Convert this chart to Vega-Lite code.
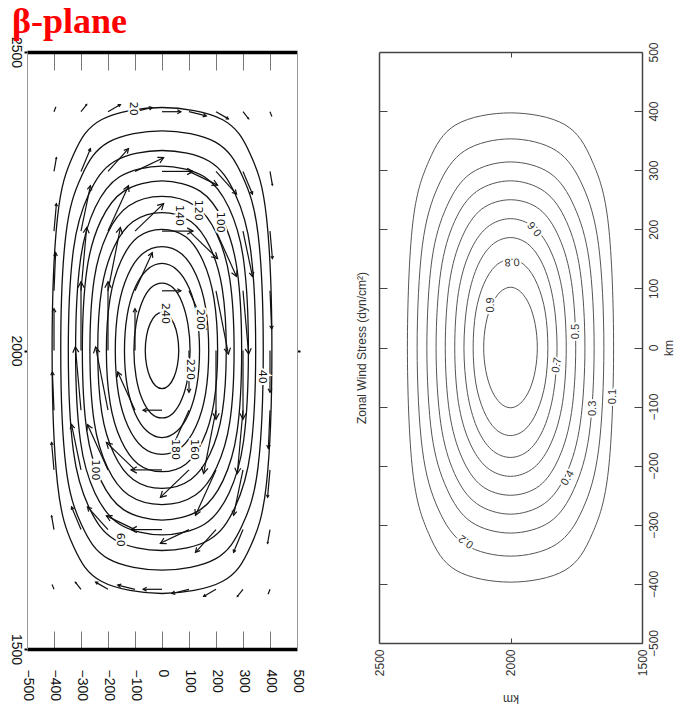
{
"$schema": "https://vega.github.io/schema/vega-lite/v6.json",
"background": "white",
"padding": {"left": 8, "top": 4, "right": 0, "bottom": 0},
"bounds": "flush",
"spacing": 82,
"config": {"view": {"stroke": null}, "font": "Liberation Sans", "axis": {"labelFont": "Liberation Sans", "titleFont": "Liberation Sans", "grid": false}},
"datasets": {
"lc": [
{"l":20,"x":407,"y":2000},{"l":20,"x":387,"y":2223},{"l":20,"x":328,"y":2328},{"l":20,"x":223,"y":2387},{"l":20,"x":0,"y":2407},{"l":20,"x":-223,"y":2387},{"l":20,"x":-328,"y":2328},{"l":20,"x":-387,"y":2223},{"l":20,"x":-407,"y":2000},{"l":20,"x":-387,"y":1777},{"l":20,"x":-328,"y":1672},{"l":20,"x":-223,"y":1613},{"l":20,"x":0,"y":1593},{"l":20,"x":223,"y":1613},{"l":20,"x":328,"y":1672},{"l":20,"x":387,"y":1777},
{"l":40,"x":375,"y":2000},{"l":40,"x":356,"y":2194},{"l":40,"x":298,"y":2292},{"l":40,"x":198,"y":2349},{"l":40,"x":0,"y":2368},{"l":40,"x":-198,"y":2349},{"l":40,"x":-298,"y":2292},{"l":40,"x":-356,"y":2194},{"l":40,"x":-375,"y":2000},{"l":40,"x":-356,"y":1806},{"l":40,"x":-298,"y":1708},{"l":40,"x":-198,"y":1651},{"l":40,"x":0,"y":1632},{"l":40,"x":198,"y":1651},{"l":40,"x":298,"y":1708},{"l":40,"x":356,"y":1806},
{"l":60,"x":347,"y":2000},{"l":60,"x":328,"y":2169},{"l":60,"x":271,"y":2262},{"l":60,"x":175,"y":2317},{"l":60,"x":0,"y":2335},{"l":60,"x":-175,"y":2317},{"l":60,"x":-271,"y":2262},{"l":60,"x":-328,"y":2169},{"l":60,"x":-347,"y":2000},{"l":60,"x":-328,"y":1831},{"l":60,"x":-271,"y":1738},{"l":60,"x":-175,"y":1683},{"l":60,"x":0,"y":1665},{"l":60,"x":175,"y":1683},{"l":60,"x":271,"y":1738},{"l":60,"x":328,"y":1831},
{"l":80,"x":320,"y":2000},{"l":80,"x":302,"y":2152},{"l":80,"x":248,"y":2239},{"l":80,"x":157,"y":2291},{"l":80,"x":0,"y":2309},{"l":80,"x":-157,"y":2291},{"l":80,"x":-248,"y":2239},{"l":80,"x":-302,"y":2152},{"l":80,"x":-320,"y":2000},{"l":80,"x":-302,"y":1848},{"l":80,"x":-248,"y":1761},{"l":80,"x":-157,"y":1709},{"l":80,"x":0,"y":1691},{"l":80,"x":157,"y":1709},{"l":80,"x":248,"y":1761},{"l":80,"x":302,"y":1848},
{"l":100,"x":295,"y":2000},{"l":100,"x":278,"y":2136},{"l":100,"x":226,"y":2218},{"l":100,"x":141,"y":2267},{"l":100,"x":0,"y":2284},{"l":100,"x":-141,"y":2267},{"l":100,"x":-226,"y":2218},{"l":100,"x":-278,"y":2136},{"l":100,"x":-295,"y":2000},{"l":100,"x":-278,"y":1864},{"l":100,"x":-226,"y":1782},{"l":100,"x":-141,"y":1733},{"l":100,"x":0,"y":1716},{"l":100,"x":141,"y":1733},{"l":100,"x":226,"y":1782},{"l":100,"x":278,"y":1864},
{"l":120,"x":267,"y":2000},{"l":120,"x":251,"y":2120},{"l":120,"x":202,"y":2196},{"l":120,"x":124,"y":2242},{"l":120,"x":0,"y":2258},{"l":120,"x":-124,"y":2242},{"l":120,"x":-202,"y":2196},{"l":120,"x":-251,"y":2120},{"l":120,"x":-267,"y":2000},{"l":120,"x":-251,"y":1880},{"l":120,"x":-202,"y":1804},{"l":120,"x":-124,"y":1758},{"l":120,"x":0,"y":1742},{"l":120,"x":124,"y":1758},{"l":120,"x":202,"y":1804},{"l":120,"x":251,"y":1880},
{"l":140,"x":238,"y":2000},{"l":140,"x":223,"y":2104},{"l":140,"x":178,"y":2173},{"l":140,"x":107,"y":2216},{"l":140,"x":0,"y":2231},{"l":140,"x":-107,"y":2216},{"l":140,"x":-178,"y":2173},{"l":140,"x":-223,"y":2104},{"l":140,"x":-238,"y":2000},{"l":140,"x":-223,"y":1896},{"l":140,"x":-178,"y":1827},{"l":140,"x":-107,"y":1784},{"l":140,"x":0,"y":1769},{"l":140,"x":107,"y":1784},{"l":140,"x":178,"y":1827},{"l":140,"x":223,"y":1896},
{"l":160,"x":206,"y":2000},{"l":160,"x":192,"y":2088},{"l":160,"x":152,"y":2150},{"l":160,"x":89,"y":2190},{"l":160,"x":0,"y":2203},{"l":160,"x":-89,"y":2190},{"l":160,"x":-152,"y":2150},{"l":160,"x":-192,"y":2088},{"l":160,"x":-206,"y":2000},{"l":160,"x":-192,"y":1912},{"l":160,"x":-152,"y":1850},{"l":160,"x":-89,"y":1810},{"l":160,"x":0,"y":1797},{"l":160,"x":89,"y":1810},{"l":160,"x":152,"y":1850},{"l":160,"x":192,"y":1912},
{"l":180,"x":173,"y":2000},{"l":180,"x":161,"y":2073},{"l":180,"x":126,"y":2127},{"l":180,"x":72,"y":2162},{"l":180,"x":0,"y":2174},{"l":180,"x":-72,"y":2162},{"l":180,"x":-126,"y":2127},{"l":180,"x":-161,"y":2073},{"l":180,"x":-173,"y":2000},{"l":180,"x":-161,"y":1927},{"l":180,"x":-126,"y":1873},{"l":180,"x":-72,"y":1838},{"l":180,"x":0,"y":1826},{"l":180,"x":72,"y":1838},{"l":180,"x":126,"y":1873},{"l":180,"x":161,"y":1927},
{"l":200,"x":139,"y":2000},{"l":200,"x":129,"y":2059},{"l":200,"x":100,"y":2105},{"l":200,"x":56,"y":2135},{"l":200,"x":0,"y":2146},{"l":200,"x":-56,"y":2135},{"l":200,"x":-100,"y":2105},{"l":200,"x":-129,"y":2059},{"l":200,"x":-139,"y":2000},{"l":200,"x":-129,"y":1941},{"l":200,"x":-100,"y":1895},{"l":200,"x":-56,"y":1865},{"l":200,"x":0,"y":1854},{"l":200,"x":56,"y":1865},{"l":200,"x":100,"y":1895},{"l":200,"x":129,"y":1941},
{"l":220,"x":104,"y":2000},{"l":220,"x":96,"y":2044},{"l":220,"x":74,"y":2081},{"l":220,"x":41,"y":2105},{"l":220,"x":0,"y":2113},{"l":220,"x":-41,"y":2105},{"l":220,"x":-74,"y":2081},{"l":220,"x":-96,"y":2044},{"l":220,"x":-104,"y":2000},{"l":220,"x":-96,"y":1956},{"l":220,"x":-74,"y":1919},{"l":220,"x":-41,"y":1895},{"l":220,"x":0,"y":1887},{"l":220,"x":41,"y":1895},{"l":220,"x":74,"y":1919},{"l":220,"x":96,"y":1956},
{"l":240,"x":62,"y":2000},{"l":240,"x":57,"y":2025},{"l":240,"x":44,"y":2045},{"l":240,"x":24,"y":2059},{"l":240,"x":0,"y":2064},{"l":240,"x":-24,"y":2059},{"l":240,"x":-44,"y":2045},{"l":240,"x":-57,"y":2025},{"l":240,"x":-62,"y":2000},{"l":240,"x":-57,"y":1975},{"l":240,"x":-44,"y":1955},{"l":240,"x":-24,"y":1941},{"l":240,"x":0,"y":1936},{"l":240,"x":24,"y":1941},{"l":240,"x":44,"y":1955},{"l":240,"x":57,"y":1975}
],
"rc": [
{"c":"0.1","p":2392,"q":0},{"c":"0.1","p":2372,"q":209},{"c":"0.1","p":2311,"q":315},{"c":"0.1","p":2207,"q":377},{"c":"0.1","p":2000,"q":397},{"c":"0.1","p":1793,"q":377},{"c":"0.1","p":1689,"q":315},{"c":"0.1","p":1628,"q":209},{"c":"0.1","p":1608,"q":0},{"c":"0.1","p":1628,"q":-209},{"c":"0.1","p":1689,"q":-315},{"c":"0.1","p":1793,"q":-377},{"c":"0.1","p":2000,"q":-397},{"c":"0.1","p":2207,"q":-377},{"c":"0.1","p":2311,"q":-315},{"c":"0.1","p":2372,"q":-209},
{"c":"0.2","p":2355,"q":0},{"c":"0.2","p":2335,"q":173},{"c":"0.2","p":2275,"q":273},{"c":"0.2","p":2174,"q":333},{"c":"0.2","p":2000,"q":353},{"c":"0.2","p":1826,"q":333},{"c":"0.2","p":1725,"q":273},{"c":"0.2","p":1665,"q":173},{"c":"0.2","p":1645,"q":0},{"c":"0.2","p":1665,"q":-173},{"c":"0.2","p":1725,"q":-273},{"c":"0.2","p":1826,"q":-333},{"c":"0.2","p":2000,"q":-353},{"c":"0.2","p":2174,"q":-333},{"c":"0.2","p":2275,"q":-273},{"c":"0.2","p":2335,"q":-173},
{"c":"0.3","p":2318,"q":0},{"c":"0.3","p":2299,"q":148},{"c":"0.3","p":2242,"q":239},{"c":"0.3","p":2150,"q":295},{"c":"0.3","p":2000,"q":314},{"c":"0.3","p":1850,"q":295},{"c":"0.3","p":1758,"q":239},{"c":"0.3","p":1701,"q":148},{"c":"0.3","p":1682,"q":0},{"c":"0.3","p":1701,"q":-148},{"c":"0.3","p":1758,"q":-239},{"c":"0.3","p":1850,"q":-295},{"c":"0.3","p":2000,"q":-314},{"c":"0.3","p":2150,"q":-295},{"c":"0.3","p":2242,"q":-239},{"c":"0.3","p":2299,"q":-148},
{"c":"0.4","p":2283,"q":0},{"c":"0.4","p":2265,"q":129},{"c":"0.4","p":2213,"q":213},{"c":"0.4","p":2129,"q":264},{"c":"0.4","p":2000,"q":282},{"c":"0.4","p":1871,"q":264},{"c":"0.4","p":1787,"q":213},{"c":"0.4","p":1735,"q":129},{"c":"0.4","p":1717,"q":0},{"c":"0.4","p":1735,"q":-129},{"c":"0.4","p":1787,"q":-213},{"c":"0.4","p":1871,"q":-264},{"c":"0.4","p":2000,"q":-282},{"c":"0.4","p":2129,"q":-264},{"c":"0.4","p":2213,"q":-213},{"c":"0.4","p":2265,"q":-129},
{"c":"0.5","p":2248,"q":0},{"c":"0.5","p":2232,"q":110},{"c":"0.5","p":2185,"q":186},{"c":"0.5","p":2110,"q":234},{"c":"0.5","p":2000,"q":250},{"c":"0.5","p":1890,"q":234},{"c":"0.5","p":1815,"q":186},{"c":"0.5","p":1768,"q":110},{"c":"0.5","p":1752,"q":0},{"c":"0.5","p":1768,"q":-110},{"c":"0.5","p":1815,"q":-186},{"c":"0.5","p":1890,"q":-234},{"c":"0.5","p":2000,"q":-250},{"c":"0.5","p":2110,"q":-234},{"c":"0.5","p":2185,"q":-186},{"c":"0.5","p":2232,"q":-110},
{"c":"0.6","p":2212,"q":0},{"c":"0.6","p":2198,"q":93},{"c":"0.6","p":2156,"q":160},{"c":"0.6","p":2090,"q":203},{"c":"0.6","p":2000,"q":218},{"c":"0.6","p":1910,"q":203},{"c":"0.6","p":1844,"q":160},{"c":"0.6","p":1802,"q":93},{"c":"0.6","p":1788,"q":0},{"c":"0.6","p":1802,"q":-93},{"c":"0.6","p":1844,"q":-160},{"c":"0.6","p":1910,"q":-203},{"c":"0.6","p":2000,"q":-218},{"c":"0.6","p":2090,"q":-203},{"c":"0.6","p":2156,"q":-160},{"c":"0.6","p":2198,"q":-93},
{"c":"0.7","p":2177,"q":0},{"c":"0.7","p":2164,"q":76},{"c":"0.7","p":2128,"q":135},{"c":"0.7","p":2072,"q":173},{"c":"0.7","p":2000,"q":186},{"c":"0.7","p":1928,"q":173},{"c":"0.7","p":1872,"q":135},{"c":"0.7","p":1836,"q":76},{"c":"0.7","p":1823,"q":0},{"c":"0.7","p":1836,"q":-76},{"c":"0.7","p":1872,"q":-135},{"c":"0.7","p":1928,"q":-173},{"c":"0.7","p":2000,"q":-186},{"c":"0.7","p":2072,"q":-173},{"c":"0.7","p":2128,"q":-135},{"c":"0.7","p":2164,"q":-76},
{"c":"0.8","p":2142,"q":0},{"c":"0.8","p":2132,"q":60},{"c":"0.8","p":2102,"q":107},{"c":"0.8","p":2057,"q":138},{"c":"0.8","p":2000,"q":149},{"c":"0.8","p":1943,"q":138},{"c":"0.8","p":1898,"q":107},{"c":"0.8","p":1868,"q":60},{"c":"0.8","p":1858,"q":0},{"c":"0.8","p":1868,"q":-60},{"c":"0.8","p":1898,"q":-107},{"c":"0.8","p":1943,"q":-138},{"c":"0.8","p":2000,"q":-149},{"c":"0.8","p":2057,"q":-138},{"c":"0.8","p":2102,"q":-107},{"c":"0.8","p":2132,"q":-60},
{"c":"0.9","p":2102,"q":0},{"c":"0.9","p":2094,"q":39},{"c":"0.9","p":2072,"q":72},{"c":"0.9","p":2039,"q":94},{"c":"0.9","p":2000,"q":102},{"c":"0.9","p":1961,"q":94},{"c":"0.9","p":1928,"q":72},{"c":"0.9","p":1906,"q":39},{"c":"0.9","p":1898,"q":0},{"c":"0.9","p":1906,"q":-39},{"c":"0.9","p":1928,"q":-72},{"c":"0.9","p":1961,"q":-94},{"c":"0.9","p":2000,"q":-102},{"c":"0.9","p":2039,"q":-94},{"c":"0.9","p":2072,"q":-72},{"c":"0.9","p":2094,"q":-39}
],
"arr": [
{"x":-400,"y":2400,"x2":-394,"y2":2407,"m":9,"a":21},{"x":-300,"y":2400,"x2":-279,"y2":2412,"m":24,"a":38},{"x":-200,"y":2400,"x2":-154,"y2":2412,"m":48,"a":60},{"x":-100,"y":2400,"x2":-36,"y2":2407,"m":64,"a":76},{"x":0,"y":2400,"x2":70,"y2":2400,"m":70,"a":90},{"x":100,"y":2400,"x2":164,"y2":2393,"m":64,"a":104},{"x":200,"y":2400,"x2":246,"y2":2388,"m":48,"a":120},{"x":300,"y":2400,"x2":321,"y2":2388,"m":24,"a":142},{"x":400,"y":2400,"x2":406,"y2":2393,"m":9,"a":159},
{"x":-400,"y":2300,"x2":-391,"y2":2323,"m":25,"a":10},{"x":-300,"y":2300,"x2":-265,"y2":2338,"m":52,"a":23},{"x":-200,"y":2300,"x2":-124,"y2":2338,"m":85,"a":42},{"x":-100,"y":2300,"x2":6,"y2":2323,"m":108,"a":64},{"x":0,"y":2300,"x2":115,"y2":2300,"m":115,"a":90},{"x":100,"y":2300,"x2":206,"y2":2277,"m":108,"a":116},{"x":200,"y":2300,"x2":276,"y2":2262,"m":85,"a":138},{"x":300,"y":2300,"x2":335,"y2":2262,"m":52,"a":157},{"x":400,"y":2300,"x2":409,"y2":2277,"m":25,"a":170},
{"x":-400,"y":2200,"x2":-391,"y2":2246,"m":47,"a":5},{"x":-300,"y":2200,"x2":-265,"y2":2276,"m":84,"a":12},{"x":-200,"y":2200,"x2":-124,"y2":2276,"m":108,"a":24},{"x":-100,"y":2200,"x2":6,"y2":2246,"m":116,"a":46},{"x":0,"y":2200,"x2":115,"y2":2200,"m":115,"a":90},{"x":100,"y":2200,"x2":206,"y2":2154,"m":116,"a":134},{"x":200,"y":2200,"x2":276,"y2":2124,"m":108,"a":156},{"x":300,"y":2200,"x2":335,"y2":2124,"m":84,"a":168},{"x":400,"y":2200,"x2":409,"y2":2154,"m":47,"a":175},
{"x":-400,"y":2100,"x2":-394,"y2":2164,"m":64,"a":2},{"x":-300,"y":2100,"x2":-279,"y2":2206,"m":108,"a":5},{"x":-200,"y":2100,"x2":-154,"y2":2206,"m":116,"a":11},{"x":-100,"y":2100,"x2":-36,"y2":2164,"m":91,"a":24},{"x":0,"y":2100,"x2":70,"y2":2100,"m":70,"a":90},{"x":100,"y":2100,"x2":164,"y2":2036,"m":91,"a":156},{"x":200,"y":2100,"x2":246,"y2":1994,"m":116,"a":169},{"x":300,"y":2100,"x2":321,"y2":1994,"m":108,"a":175},{"x":400,"y":2100,"x2":406,"y2":2036,"m":64,"a":178},
{"x":-400,"y":2000,"x2":-400,"y2":2070,"m":70,"a":0},{"x":-300,"y":2000,"x2":-300,"y2":2115,"m":115,"a":0},{"x":-200,"y":2000,"x2":-200,"y2":2115,"m":115,"a":0},{"x":-100,"y":2000,"x2":-100,"y2":2070,"m":70,"a":0},{"x":100,"y":2000,"x2":100,"y2":1930,"m":70,"a":180},{"x":200,"y":2000,"x2":200,"y2":1885,"m":115,"a":180},{"x":300,"y":2000,"x2":300,"y2":1885,"m":115,"a":180},{"x":400,"y":2000,"x2":400,"y2":1930,"m":70,"a":180},
{"x":-400,"y":1900,"x2":-406,"y2":1964,"m":64,"a":-2},{"x":-300,"y":1900,"x2":-321,"y2":2006,"m":108,"a":-5},{"x":-200,"y":1900,"x2":-246,"y2":2006,"m":116,"a":-11},{"x":-100,"y":1900,"x2":-164,"y2":1964,"m":91,"a":-24},{"x":0,"y":1900,"x2":-70,"y2":1900,"m":70,"a":-90},{"x":100,"y":1900,"x2":36,"y2":1836,"m":91,"a":-156},{"x":200,"y":1900,"x2":154,"y2":1794,"m":116,"a":-169},{"x":300,"y":1900,"x2":279,"y2":1794,"m":108,"a":-175},{"x":400,"y":1900,"x2":394,"y2":1836,"m":64,"a":-178},
{"x":-400,"y":1800,"x2":-409,"y2":1846,"m":47,"a":-5},{"x":-300,"y":1800,"x2":-335,"y2":1876,"m":84,"a":-12},{"x":-200,"y":1800,"x2":-276,"y2":1876,"m":108,"a":-24},{"x":-100,"y":1800,"x2":-206,"y2":1846,"m":116,"a":-46},{"x":0,"y":1800,"x2":-115,"y2":1800,"m":115,"a":-90},{"x":100,"y":1800,"x2":-6,"y2":1754,"m":116,"a":-134},{"x":200,"y":1800,"x2":124,"y2":1724,"m":108,"a":-156},{"x":300,"y":1800,"x2":265,"y2":1724,"m":84,"a":-168},{"x":400,"y":1800,"x2":391,"y2":1754,"m":47,"a":-175},
{"x":-400,"y":1700,"x2":-409,"y2":1723,"m":25,"a":-10},{"x":-300,"y":1700,"x2":-335,"y2":1738,"m":52,"a":-23},{"x":-200,"y":1700,"x2":-276,"y2":1738,"m":85,"a":-42},{"x":-100,"y":1700,"x2":-206,"y2":1723,"m":108,"a":-64},{"x":0,"y":1700,"x2":-115,"y2":1700,"m":115,"a":-90},{"x":100,"y":1700,"x2":-6,"y2":1677,"m":108,"a":-116},{"x":200,"y":1700,"x2":124,"y2":1662,"m":85,"a":-138},{"x":300,"y":1700,"x2":265,"y2":1662,"m":52,"a":-157},{"x":400,"y":1700,"x2":391,"y2":1677,"m":25,"a":-170},
{"x":-400,"y":1600,"x2":-406,"y2":1607,"m":9,"a":-21},{"x":-300,"y":1600,"x2":-321,"y2":1612,"m":24,"a":-38},{"x":-200,"y":1600,"x2":-246,"y2":1612,"m":48,"a":-60},{"x":-100,"y":1600,"x2":-164,"y2":1607,"m":64,"a":-76},{"x":0,"y":1600,"x2":-70,"y2":1600,"m":70,"a":-90},{"x":100,"y":1600,"x2":36,"y2":1593,"m":64,"a":-104},{"x":200,"y":1600,"x2":154,"y2":1588,"m":48,"a":-120},{"x":300,"y":1600,"x2":279,"y2":1588,"m":24,"a":-142},{"x":400,"y":1600,"x2":394,"y2":1593,"m":9,"a":-159}
],
"ll": [
{"t":"20","x":-107,"y":2405},{"t":"40","x":370,"y":1956},{"t":"60","x":-156,"y":1683},{"t":"100","x":-248,"y":1800},{"t":"100","x":215,"y":2215},{"t":"120","x":133,"y":2235},{"t":"140","x":63,"y":2226},{"t":"160","x":119,"y":1834},{"t":"180","x":48,"y":1834},{"t":"200","x":141,"y":2052},{"t":"220","x":104,"y":1968},{"t":"240","x":11,"y":2062}
],
"rl": [
{"t":"0.1","p":1610,"q":-83,"a":-90},{"t":"0.2","p":2168,"q":-328,"a":215},{"t":"0.3","p":1686,"q":-103,"a":-90},{"t":"0.4","p":1782,"q":-221,"a":-60},{"t":"0.5","p":1752,"q":27,"a":-90},{"t":"0.6","p":1907,"q":201,"a":230},{"t":"0.7","p":1823,"q":-30,"a":-80},{"t":"0.8","p":1994,"q":145,"a":178},{"t":"0.9","p":2074,"q":72,"a":-90}
]
},
"hconcat": [
{
"width": 270, "height": 597,
"title": {"text": "β-plane", "anchor": "start", "font": "Liberation Serif", "fontSize": 36, "fontWeight": "bold", "color": "#ff0000", "offset": -5, "dx": 4},
"resolve": {"axis": {"x": "independent", "y": "independent"}},
"layer": [
{
"data": {"name": "lc"},
"mark": {"type": "line", "interpolate": "cardinal-closed", "strokeWidth": 1.3, "color": "#111"},
"encoding": {
"x": {"field": "x", "type": "quantitative", "scale": {"domain": [-500, 500], "nice": false, "zero": false},
 "axis": {"orient": "bottom", "values": [-500,-400,-300,-200,-100,0,100,200,300,400,500], "format": "d", "labelAngle": 90, "labelAlign": "left", "labelBaseline": "middle", "labelFontSize": 14, "labelColor": "#111", "tickSize": -18, "tickColor": "#777", "tickWidth": 1, "labelPadding": 38, "domainColor": "#000", "domainWidth": 3.5, "title": null, "labelFlush": false, "labelOverlap": false}},
"y": {"field": "y", "type": "quantitative", "scale": {"domain": [1500, 2500], "nice": false, "zero": false},
 "axis": {"orient": "left", "values": [1500, 2000, 2500], "format": "d", "labelAngle": 90, "labelAlign": "center", "labelBaseline": "top", "labelFontSize": 14, "labelColor": "#111", "tickSize": 3, "tickColor": "#000", "tickWidth": 2, "labelPadding": 2, "domainColor": "#999", "domainWidth": 1, "title": null, "labelFlush": false, "labelOverlap": false}},
"detail": {"field": "l", "type": "nominal"},
"order": {"value": null}
}
},
{
"data": {"name": "arr"},
"mark": {"type": "rule", "strokeWidth": 1.2, "color": "#111"},
"encoding": {
"x": {"field": "x", "type": "quantitative", "scale": {"domain": [-500, 500], "nice": false, "zero": false},
 "axis": {"orient": "top", "values": [-400,-300,-200,-100,0,100,200,300,400], "labels": false, "tickSize": -18, "tickColor": "#777", "tickWidth": 1, "domainColor": "#000", "domainWidth": 3.5, "title": null}},
"y": {"field": "y", "type": "quantitative", "scale": {"domain": [1500, 2500], "nice": false, "zero": false},
 "axis": {"orient": "right", "values": [2000], "labels": false, "tickSize": 3, "tickWidth": 2, "tickColor": "#000", "domainColor": "#999", "domainWidth": 1, "title": null}},
"x2": {"field": "x2"},
"y2": {"field": "y2"}
}
},
{
"data": {"name": "arr"},
"mark": {"type": "point", "shape": "M -0.55 1 L 0 0 L 0.55 1", "filled": false, "strokeWidth": 1.2, "color": "#111", "opacity": 1},
"encoding": {
"x": {"field": "x2", "type": "quantitative", "scale": {"domain": [-500, 500], "nice": false, "zero": false}, "axis": null},
"y": {"field": "y2", "type": "quantitative", "scale": {"domain": [1500, 2500], "nice": false, "zero": false}, "axis": null},
"angle": {"field": "a", "type": "quantitative", "scale": null},
"size": {"field": "m", "type": "quantitative", "scale": {"type": "pow", "exponent": 2, "domain": [0, 120], "range": [0, 150]}, "legend": null}
}
},
{
"data": {"name": "ll"},
"mark": {"type": "text", "angle": 90, "font": "DejaVu Sans", "fontSize": 11, "color": "white", "stroke": "white", "strokeWidth": 4},
"encoding": {
"x": {"field": "x", "type": "quantitative", "scale": {"domain": [-500, 500], "nice": false, "zero": false}, "axis": null},
"y": {"field": "y", "type": "quantitative", "scale": {"domain": [1500, 2500], "nice": false, "zero": false}, "axis": null},
"text": {"field": "t"}
}
},
{
"data": {"name": "ll"},
"mark": {"type": "text", "angle": 90, "font": "DejaVu Sans", "fontSize": 11, "color": "#111"},
"encoding": {
"x": {"field": "x", "type": "quantitative", "scale": {"domain": [-500, 500], "nice": false, "zero": false}, "axis": null},
"y": {"field": "y", "type": "quantitative", "scale": {"domain": [1500, 2500], "nice": false, "zero": false}, "axis": null},
"text": {"field": "t"}
}
}
]
},
{
"width": 263, "height": 591,
"resolve": {"axis": {"x": "independent", "y": "independent"}},
"layer": [
{
"data": {"name": "rc"},
"mark": {"type": "line", "interpolate": "cardinal-closed", "strokeWidth": 1, "color": "#555"},
"encoding": {
"x": {"field": "p", "type": "quantitative", "scale": {"domain": [1500, 2500], "reverse": true, "nice": false, "zero": false},
 "axis": {"orient": "bottom", "values": [1500, 2000, 2500], "format": "d", "labelAngle": -90, "labelAlign": "right", "labelBaseline": "middle", "labelFontSize": 12, "labelColor": "#333", "tickSize": -5, "tickColor": "#444", "labelPadding": 11, "domainColor": "#444", "domainWidth": 1.5, "title": "km", "titleAngle": 180, "titleBaseline": "bottom", "titleFontSize": 12, "titleFontWeight": "normal", "titleColor": "#333", "titlePadding": 16, "labelFlush": false, "labelOverlap": false}},
"y": {"field": "q", "type": "quantitative", "scale": {"domain": [-500, 500], "nice": false, "zero": false},
 "axis": {"orient": "left", "values": [-400,-300,-200,-100,0,100,200,300,400], "labels": false, "tickSize": -8, "tickColor": "#444", "domainColor": "#444", "domainWidth": 1.5, "title": "Zonal Wind Stress (dyn/cm²)", "titleFontSize": 12, "titleFontWeight": "normal", "titleColor": "#333", "titlePadding": 10}},
"detail": {"field": "c", "type": "nominal"},
"order": {"value": null}
}
},
{
"data": {"name": "rl"},
"mark": {"type": "text", "fontSize": 11, "color": "white", "stroke": "white", "strokeWidth": 4},
"encoding": {
"x": {"field": "p", "type": "quantitative", "scale": {"domain": [1500, 2500], "reverse": true, "nice": false, "zero": false},
 "axis": {"orient": "top", "values": [2000], "labels": false, "tickSize": -5, "tickColor": "#444", "domainColor": "#444", "domainWidth": 1.5, "title": null}},
"y": {"field": "q", "type": "quantitative", "scale": {"domain": [-500, 500], "nice": false, "zero": false},
 "axis": {"orient": "right", "values": [-500,-400,-300,-200,-100,0,100,200,300,400,500], "format": "d", "labelAngle": -90, "labelAlign": "center", "labelBaseline": "top", "labelFontSize": 12, "labelColor": "#333", "tickSize": -8, "tickColor": "#444", "labelPadding": 14, "domainColor": "#444", "domainWidth": 1.5, "title": "km", "titleAngle": -90, "titleBaseline": "top", "titleFontSize": 12, "titleFontWeight": "normal", "titleColor": "#333", "titlePadding": 4, "labelFlush": false, "labelOverlap": false}},
"angle": {"field": "a", "type": "quantitative", "scale": null},
"text": {"field": "t"}
}
},
{
"data": {"name": "rl"},
"mark": {"type": "text", "fontSize": 11, "color": "#333"},
"encoding": {
"x": {"field": "p", "type": "quantitative", "scale": {"domain": [1500, 2500], "reverse": true, "nice": false, "zero": false}, "axis": null},
"y": {"field": "q", "type": "quantitative", "scale": {"domain": [-500, 500], "nice": false, "zero": false}, "axis": null},
"angle": {"field": "a", "type": "quantitative", "scale": null},
"text": {"field": "t"}
}
}
]
}
]
}
